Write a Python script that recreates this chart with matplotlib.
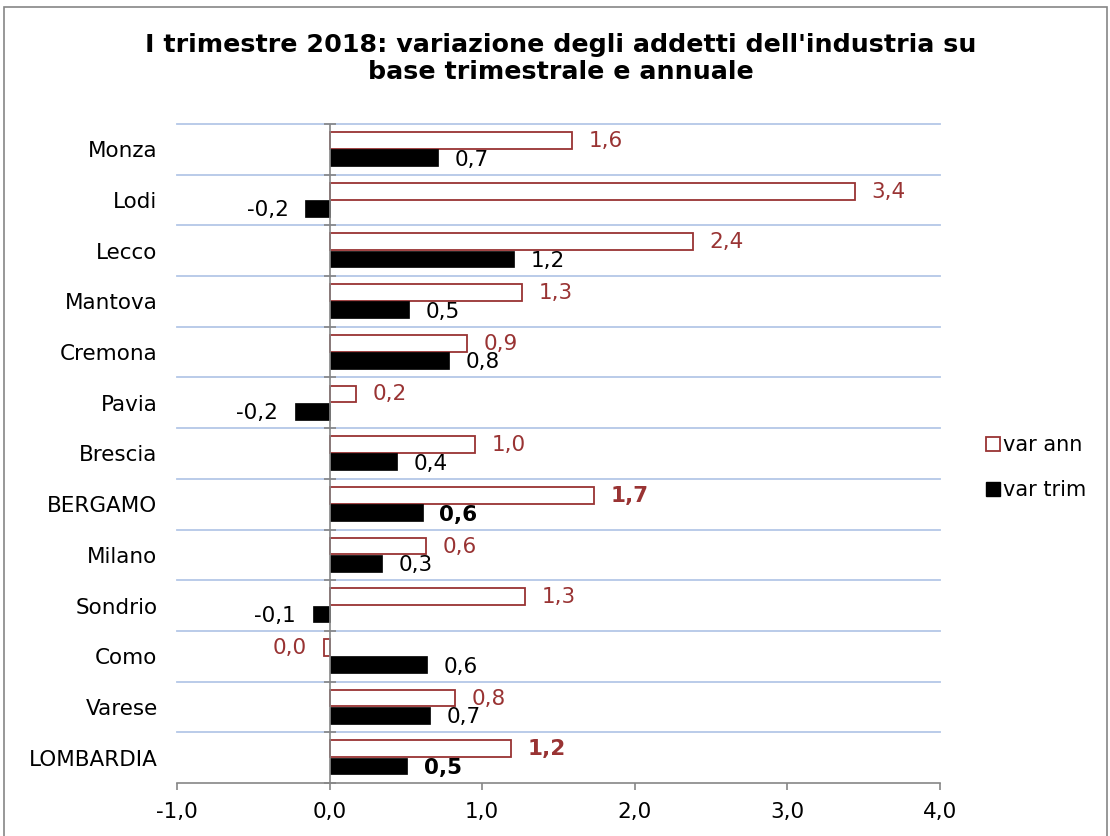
import numpy as np
import matplotlib
matplotlib.use("Agg")
import matplotlib.pyplot as plt
from matplotlib.patches import Rectangle
from matplotlib.lines import Line2D

# data (bar lengths) plus the printed labels
provinces = ["Monza", "Lodi", "Lecco", "Mantova", "Cremona", "Pavia", "Brescia",
             "BERGAMO", "Milano", "Sondrio", "Como", "Varese", "LOMBARDIA"]
var_ann = [1.59, 3.44, 2.38, 1.26, 0.90, 0.17, 0.95, 1.73, 0.63, 1.28, -0.04, 0.82, 1.19]
var_trim = [0.71, -0.16, 1.21, 0.52, 0.78, -0.23, 0.44, 0.61, 0.34, -0.11, 0.64, 0.66, 0.51]
ann_labels = ["1,6", "3,4", "2,4", "1,3", "0,9", "0,2", "1,0", "1,7", "0,6", "1,3", "0,0", "0,8", "1,2"]
trim_labels = ["0,7", "-0,2", "1,2", "0,5", "0,8", "-0,2", "0,4", "0,6", "0,3", "-0,1", "0,6", "0,7", "0,5"]
bold_rows = ["BERGAMO", "LOMBARDIA"]
xticks = [-1, 0, 1, 2, 3, 4]
xtick_labels = ["-1,0", "0,0", "1,0", "2,0", "3,0", "4,0"]

ann_color = "#993333"
grid_color = "#b4c7e7"
axis_gray = "#868686"
fs = 15.5

fig = plt.figure(figsize=(11.1, 8.36), dpi=100)
ax = fig.add_axes([0.1595, 0.0634, 0.6873, 0.7883])

# outer chart border
fig.patches.append(Rectangle((0.004, -0.01), 0.993, 1.002, transform=fig.transFigure,
                             fill=False, edgecolor=axis_gray, linewidth=1.2))

y = np.arange(len(provinces))
h = 0.33
ax.barh(y - h / 2 - 0.01, var_ann, height=h, color="white", edgecolor=ann_color, linewidth=1.3)
ax.barh(y + h / 2, var_trim, height=h, color="black", edgecolor="black", linewidth=0.5)

for i, name in enumerate(provinces):
    weight = "bold" if name in bold_rows else "normal"
    for val, lab, dy, col in [(var_ann[i], ann_labels[i], -h / 2, ann_color),
                              (var_trim[i], trim_labels[i], h / 2 + 0.04, "black")]:
        off = 12 if val >= 0 else -12
        ax.annotate(lab, (val, y[i] + dy), xytext=(off, 0), textcoords="offset points",
                    ha="left" if val >= 0 else "right", va="center",
                    fontsize=fs, color=col, fontweight=weight)

ax.set_xlim(-1, 4)
ax.set_ylim(len(provinces) - 0.5, -0.5)

# horizontal gridlines at category boundaries
for b in np.arange(-0.5, len(provinces) - 0.5, 1.0):
    ax.axhline(b, color=grid_color, linewidth=1.3, zorder=0, clip_on=False)

# vertical category axis at zero with little ticks
ax.axvline(0, color=axis_gray, linewidth=1.2, zorder=3)
bounds = np.arange(-0.5, len(provinces) + 0.5, 1.0)
ax.plot(np.zeros(len(bounds)), bounds, linestyle="none", marker="_", markersize=8,
        color=axis_gray, markeredgewidth=1.2, zorder=3, clip_on=False)

for s in ["top", "right", "left"]:
    ax.spines[s].set_visible(False)
ax.spines["bottom"].set_color(axis_gray)
ax.spines["bottom"].set_linewidth(1.2)

ax.set_yticks(y)
ax.set_yticklabels(provinces, fontsize=fs)
ax.tick_params(axis="y", length=0, pad=14)
ax.set_xticks(xticks)
ax.set_xticklabels(xtick_labels, fontsize=fs)
ax.tick_params(axis="x", length=5, width=1.2, color=axis_gray, pad=9)

fig.text(0.505, 0.93, "I trimestre 2018: variazione degli addetti dell'industria su\nbase trimestrale e annuale",
         ha="center", va="center", fontsize=18.3, fontweight="bold", linespacing=1.2)

handles = [Line2D([], [], linestyle="none", marker="s", markersize=10, markerfacecolor="white",
                  markeredgecolor=ann_color, markeredgewidth=1.3),
           Line2D([], [], linestyle="none", marker="s", markersize=10, markerfacecolor="black",
                  markeredgecolor="black")]
fig.legend(handles, ["var ann", "var trim"], loc="center left", bbox_to_anchor=(0.87, 0.441),
           frameon=False, fontsize=fs - 0.5, handletextpad=0.1, labelspacing=1.2, handlelength=0.8)

fig.savefig("out.png", dpi=100)
